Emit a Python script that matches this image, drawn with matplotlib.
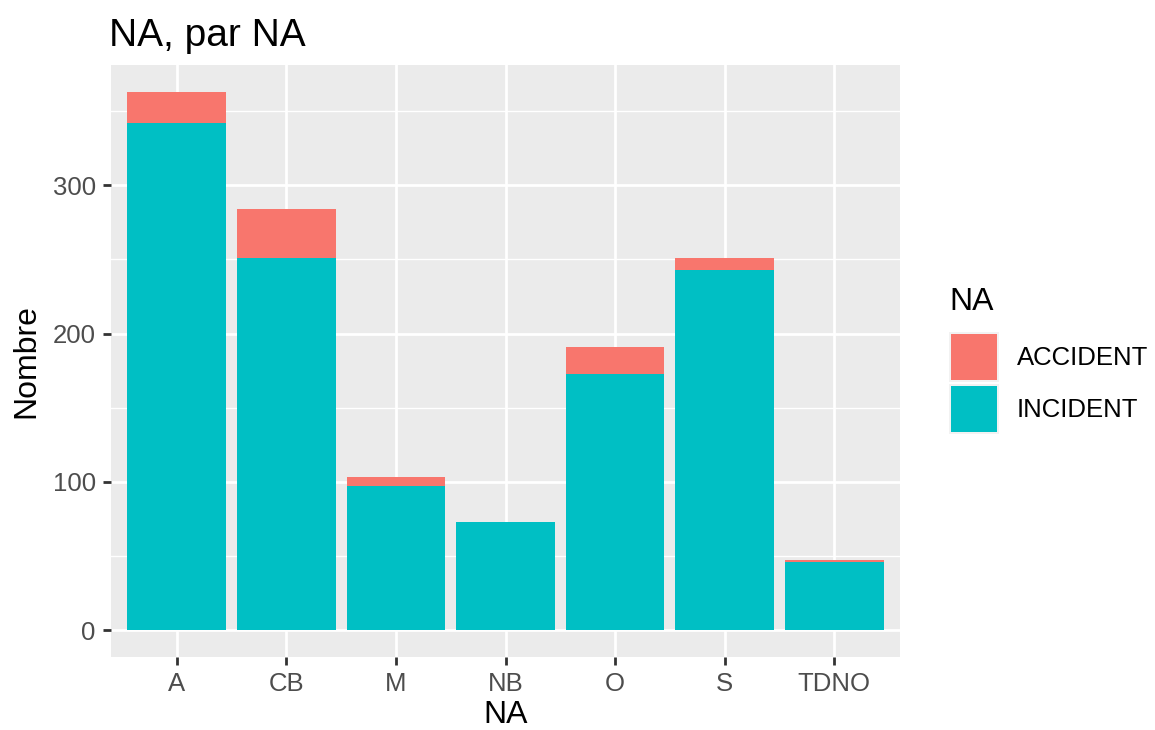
import numpy as np
import matplotlib.pyplot as plt
from matplotlib.patches import Rectangle

categories = ["A", "CB", "M", "NB", "O", "S", "TDNO"]
incident = [342, 251, 97, 73, 173, 243, 46]
accident = [21, 33, 6, 0, 18, 8, 1]
series_labels = ["ACCIDENT", "INCIDENT"]
y_ticks = [0, 100, 200, 300]
y_minor = [50, 150, 250, 350]

COL_ACC = "#F8766D"
COL_INC = "#00BFC4"
PANEL = "#EBEBEB"
TXT = "#4D4D4D"

plt.rcParams['font.family'] = ['Liberation Sans', 'DejaVu Sans']

W, H = 1155, 730
fig = plt.figure(figsize=(W / 100, H / 100), dpi=100)

def px_axes(l, t, r, b):
    return [l / W, 1 - b / H, (r - l) / W, (b - t) / H]

ax = fig.add_axes(px_axes(111, 65, 900, 657))
ax.set_facecolor(PANEL)

x = np.arange(1, len(categories) + 1)
inc = np.array(incident)
acc = np.array(accident)
top = (inc + acc).max()

ax.bar(x, inc, width=0.9, color=COL_INC, zorder=3, linewidth=0)
ax.bar(x, acc, width=0.9, bottom=inc, color=COL_ACC, zorder=3, linewidth=0)

ax.set_xlim(0.4, len(categories) + 0.6)
ax.set_ylim(-0.05 * top, top * 1.05)

ax.set_yticks(y_ticks)
ax.set_yticks(y_minor, minor=True)
ax.set_xticks(x)
ax.set_xticklabels(categories)

ax.grid(which='major', color='white', linewidth=2.0, zorder=1)
ax.grid(which='minor', axis='y', color='white', linewidth=1.0, zorder=1)
for s in ax.spines.values():
    s.set_visible(False)
ax.tick_params(which='major', length=6, width=2.0, color='#333333',
               labelsize=18.5, labelcolor=TXT, pad=5)
ax.tick_params(which='minor', length=0)

ax.set_xlabel("NA", fontsize=23, labelpad=3)
ax.set_ylabel("Nombre", fontsize=23, labelpad=8)
ax.set_title("NA, par NA", fontsize=28, loc='left', pad=14, x=-0.002)

# legend drawn by hand in pixel coordinates
lax = fig.add_axes([0, 0, 1, 1], facecolor='none')
lax.set_xlim(0, W)
lax.set_ylim(H, 0)
lax.axis('off')
lax.text(949, 302, "NA", fontsize=23, va='center', ha='left')
for i, (lab, col) in enumerate(zip(series_labels, [COL_ACC, COL_INC])):
    y0 = 332 + i * 52
    lax.add_patch(Rectangle((949, y0), 50, 50, facecolor='#F2F2F2',
                            edgecolor='none'))
    lax.add_patch(Rectangle((951, y0 + 2), 46, 46, facecolor=col,
                            edgecolor='none'))
    lax.text(1017, y0 + 26, lab, fontsize=18.5, va='center', ha='left')

fig.savefig("out.png", dpi=100)
